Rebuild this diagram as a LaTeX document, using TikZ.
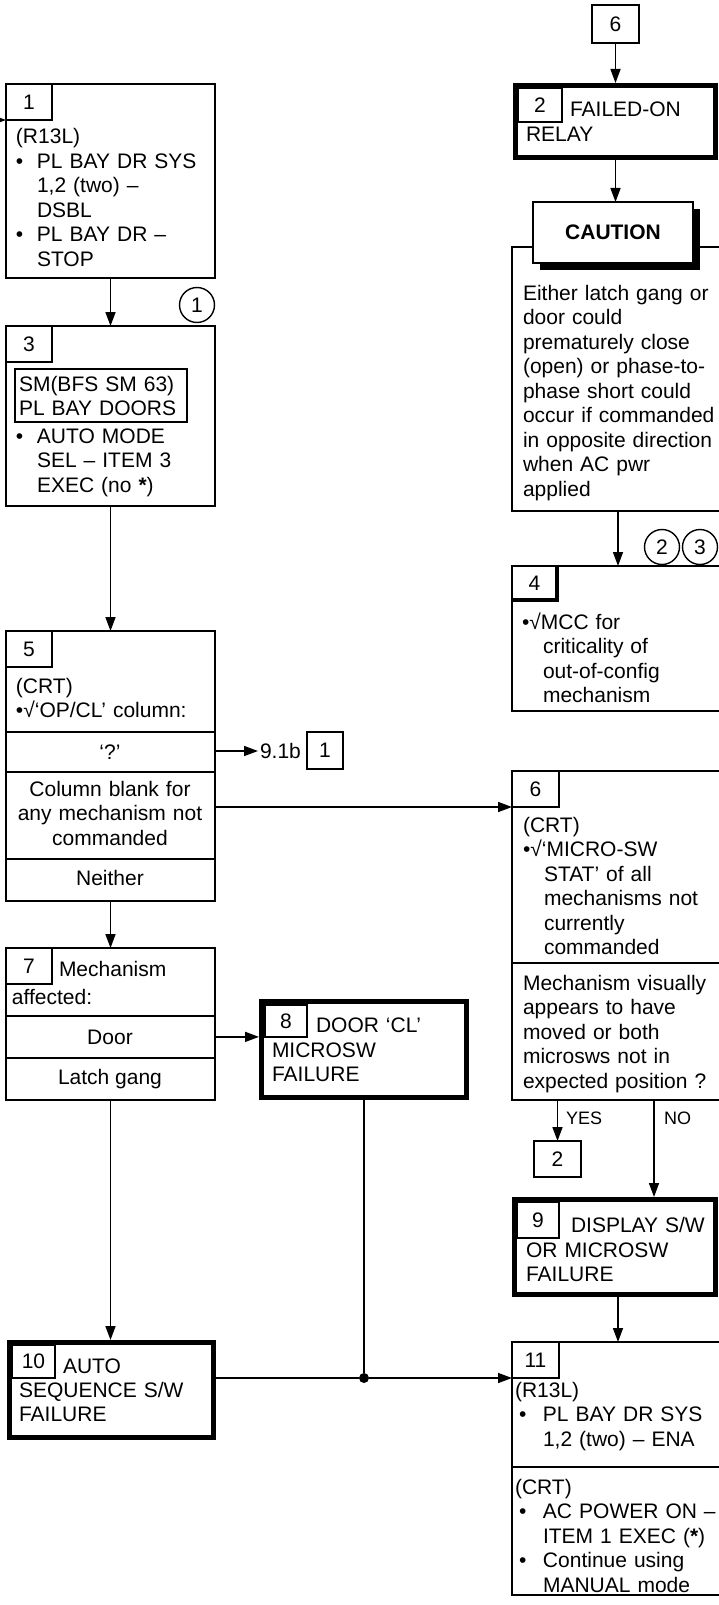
\documentclass[tikz,border=0pt]{standalone}
\usepackage{fontspec}
\setmainfont{Liberation Sans}
\usetikzlibrary{positioning,arrows.meta,shadows}

\newcommand{\bul}[1][21pt]{\hangindent=#1\hangafter=1\makebox[#1][l]{•}}
\newcommand{\wbul}{\hangindent=28pt\hangafter=1\makebox[28pt][l]{\hspace{4pt}•}}
\newcommand{\chk}{\hangindent=21pt\hangafter=1 •√}

\begin{document}
\begin{tikzpicture}[
    x=1pt, y=-1pt,
    every node/.style={font=\fontsize{21}{24.5}\selectfont, inner sep=0pt, outer sep=0pt},
    box/.style={rectangle, draw, line width=2pt, anchor=north west},
    failbox/.style={rectangle, draw, line width=5pt, outer sep=2.5pt, anchor=north west},
    numbox/.style={rectangle, draw, line width=1.4pt, minimum width=47pt, minimum height=36pt, anchor=north west},
    txt/.style={anchor=base west, text width=230pt, align=left},
    ctxt/.style={anchor=base},
    ctxtw/.style={anchor=base, text width=200pt, align=center},
    yn/.style={anchor=base west, font=\fontsize{18}{21}\selectfont},
    tag/.style={circle, draw, line width=1.4pt, minimum size=35pt},
    dot/.style={circle, fill, minimum size=10pt},
    arrow/.style={-{Triangle[length=14pt,width=10pt]}, line width=1.6pt},
    link/.style={line width=1.6pt},
    divider/.style={line width=2pt}
]
\useasboundingbox (0,0) rectangle (718,1605);

%% ---- Block 1 ----
\node[box, minimum width=209pt, minimum height=194pt] (b1) at (6,84) {};
\node[numbox, minimum width=46pt] (n1) at (6,84) {1};
\node[txt] (t1) at (16,144) {(R13L)\par\bul PL BAY DR SYS\newline 1,2 (two) –\newline DSBL\par\bul PL BAY DR –\newline STOP\par};
\node[tag] (c1) at (197,305) {1};

%% ---- Block 3 ----
\node[box, minimum width=209pt, minimum height=180pt] (b3) at (6,326) {};
\node[numbox, minimum width=46pt] (n3) at (6,326) {3};
\node[box, minimum width=172pt, minimum height=53pt] (sm3) at (15,369) {};
\node[txt] (t3a) at (19,391) {SM(BFS SM 63)\\PL BAY DOORS};
\node[txt] (t3b) at (16,443) {\bul AUTO MODE\newline SEL – ITEM 3\newline EXEC (no \textbf{*})\par};

%% ---- Block 5 ----
\node[box, minimum width=209pt, minimum height=270pt] (b5) at (6,631) {};
\node[numbox, minimum width=46pt] (n5) at (6,631) {5};
\node[txt] (t5) at (16,693) {(CRT)\\•√‘OP/CL’ column:};
\draw[divider] (6,732) -- (215,732);
\draw[divider] (6,772) -- (215,772);
\draw[divider] (6,859) -- (215,859);
\node[ctxt] (q5) at (110,759) {‘?’};
\node[ctxtw] (cb5) at (110,796) {Column blank for\\any mechanism not\\commanded};
\node[ctxt] (ne5) at (110,885) {Neither};
\node[anchor=west, inner xsep=2pt] (ref) at (258,751) {9.1b};
\node[numbox, minimum width=36pt, minimum height=37pt] (r1) at (307,732) {1};

%% ---- Block 7 ----
\node[box, minimum width=209pt, minimum height=152pt] (b7) at (6,948) {};
\node[numbox, minimum width=46pt] (n7) at (6,948) {7};
\node[txt] (t7a) at (59,976) {Mechanism};
\node[txt] (t7b) at (12,1004) {affected:};
\draw[divider] (6,1016) -- (215,1016);
\draw[divider] (6,1058) -- (215,1058);
\node[ctxt] (d7) at (110,1044) {Door};
\node[ctxt] (l7) at (110,1084) {Latch gang};

%% ---- Block 8 ----
\node[failbox, minimum width=205pt, minimum height=96pt] (b8) at (259,999) {};
\node[numbox, minimum width=42pt, minimum height=32pt] (n8) at (265,1005) {8};
\node[txt] (t8a) at (316,1032) {DOOR ‘CL’};
\node[txt] (t8b) at (272,1057) {MICROSW\\FAILURE};

%% ---- Block 10 ----
\node[failbox, minimum width=204pt, minimum height=95pt] (b10) at (7,1340) {};
\node[numbox, minimum width=43pt, minimum height=33pt] (n10) at (12,1345) {10};
\node[txt] (t10a) at (63,1373) {AUTO};
\node[txt] (t10b) at (19,1397) {SEQUENCE S/W\\FAILURE};

%% ---- Block 2 ----
\node[numbox, minimum height=38pt] (top6) at (592,5) {6};
\node[failbox, minimum width=200pt, minimum height=72pt] (b2) at (513,83) {};
\node[numbox, minimum width=44pt, minimum height=34pt] (n2) at (518,88) {2};
\node[txt] (t2a) at (570,117) {FAILED-ON};
\node[txt] (t2b) at (526,142) {RELAY};

%% ---- Caution ----
\node[box, minimum width=212pt, minimum height=264pt] (ctb) at (512,247) {};
\node[box, fill=white, minimum width=160pt, minimum height=61pt,
      drop shadow={shadow xshift=7pt, shadow yshift=-7pt, fill=black, opacity=1}] (caut) at (533,202) {\textbf{CAUTION}};
\node[txt] (tc) at (523,300) {Either latch gang or\\door could\\prematurely close\\(open) or phase-to-\\phase short could\\occur if commanded\\in opposite direction\\when AC pwr\\applied};
\node[tag] (c2) at (662,547) {2};
\node[tag] (c3) at (700,547) {3};

%% ---- Block 4 ----
\node[box, minimum width=212pt, minimum height=145pt] (b4) at (512,566) {};
\node[numbox, minimum width=45pt, minimum height=34pt] (n4) at (512,566) {4};
\draw[line width=4pt] (n4.north east) -- (n4.south east) -- (n4.south west);
\node[txt] (t4) at (522,629) {\chk MCC for\newline criticality of\newline out-of-config\newline mechanism\par};

%% ---- Block 6 ----
\node[box, minimum width=212pt, minimum height=329pt] (b6) at (512,771) {};
\node[numbox] (n6) at (512,771) {6};
\node[txt] (t6a) at (523,832) {(CRT)\par\chk ‘MICRO-SW\newline STAT’ of all\newline mechanisms not\newline currently\newline commanded\par};
\draw[divider] (512,963) -- (724,963);
\node[txt] (t6b) at (523,990) {Mechanism visually\\appears to have\\moved or both\\microsws not in\\expected position ?};
\node[yn] (yes) at (566,1124) {YES};
\node[yn] (no) at (664,1124) {NO};
\node[numbox] (g2) at (534,1141) {2};
\coordinate (nob) at (654,1100);

%% ---- Block 9 ----
\node[failbox, minimum width=201pt, minimum height=95pt] (b9) at (512,1197) {};
\node[numbox, minimum width=42pt, minimum height=36pt] (n9) at (517,1202) {9};
\node[txt] (t9a) at (571,1232) {DISPLAY S/W};
\node[txt] (t9b) at (526,1257) {OR MICROSW\\FAILURE};

%% ---- Block 11 ----
\node[box, minimum width=212pt, minimum height=253pt] (b11) at (512,1342) {};
\node[numbox] (n11) at (512,1342) {11};
\node[txt] (t11a) at (515,1397) {(R13L)\par\wbul PL BAY DR SYS\newline 1,2 (two) – ENA\par};
\draw[divider] (512,1467) -- (724,1467);
\node[txt] (t11b) at (515,1494) {(CRT)\par\wbul AC POWER ON –\newline ITEM 1 EXEC (\textbf{*})\par\wbul Continue using\newline MANUAL mode\par};

%% ---- Arrows: left column ----
\coordinate (in1) at (-20,120);
\draw[arrow] (in1) -- (in1 -| b1.west);
\draw[arrow] (b1.south) -- (b3.north);
\draw[arrow] (b3.south) -- (b5.north);
\draw[arrow] (b5.east |- ref.west) -- (ref.west);
\draw[arrow] (b5.east |- n6.south) -- (n6.south west);
\draw[arrow] (b5.south) -- (b7.north);
\draw[arrow] (b7.east |- d7.center) -- (b8.west |- d7.center);
\draw[arrow] (b7.south) -- (b7.south |- b10.north);

%% ---- Arrows: right column ----
\draw[arrow] (top6.south) -- (top6.south |- b2.north);
\draw[arrow] (b2.south) -- (b2.south |- caut.north);
\draw[arrow] (ctb.south) -- (ctb.south |- b4.north);
\draw[arrow] (b6.south -| g2.north) -- (g2.north);
\draw[arrow] (nob) -- (nob |- b9.north);
\draw[arrow] (b11.north |- b9.south) -- (b11.north);

%% ---- Failure paths to block 11 ----
\node[dot] (jn) at (b8.south |- n11.south) {};
\draw[link] (b8.south) -- (jn);
\draw[link] (b10.east |- jn) -- (jn);
\draw[arrow] (jn) -- (b11.west |- jn);

\end{tikzpicture}
\end{document}
